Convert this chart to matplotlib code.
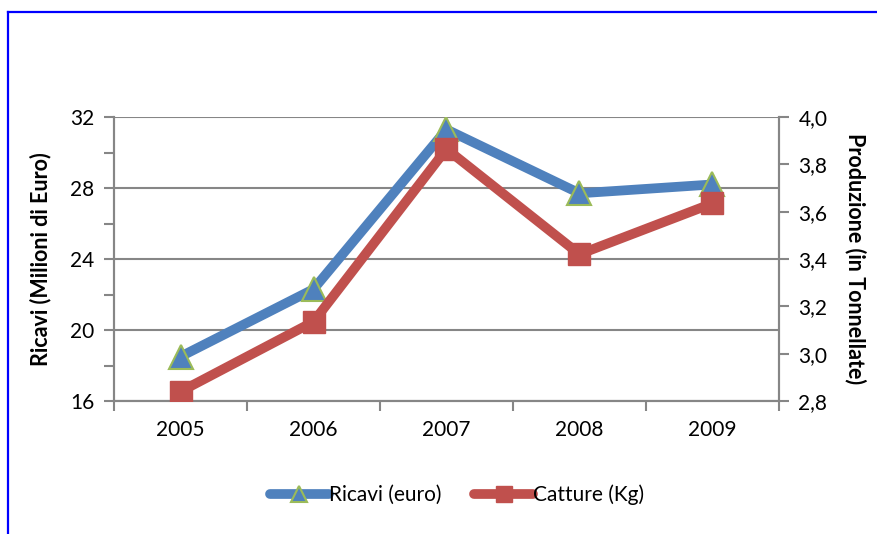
import numpy as np
import matplotlib
matplotlib.use("Agg")
import matplotlib.pyplot as plt
from matplotlib.lines import Line2D
from matplotlib.ticker import FixedLocator, FuncFormatter

plt.rcParams['font.family'] = ['Lato', 'DejaVu Sans']

# data
years = ['2005', '2006', '2007', '2008', '2009']
ricavi = [18.5, 22.3, 31.3, 27.7, 28.2]          # milioni di euro (left axis)
catture = [2.84, 3.135, 3.865, 3.42, 3.635]      # tonnellate (right axis)

blue = '#4F81BD'
red = '#C0504D'
green = '#9BBB59'
grey = '#868686'

fig = plt.figure(figsize=(8.78, 5.34), dpi=100)
ax = fig.add_axes([114 / 878, 1 - 401 / 534, 665 / 878, 284 / 534])
ax2 = ax.twinx()

x = np.arange(len(years))

# left axis: ricavi
ax.plot(x, ricavi, color=blue, lw=7, marker='^', ms=17,
        mfc=blue, mec=green, mew=1.5, solid_capstyle='round',
        solid_joinstyle='round', label='Ricavi (euro)', zorder=3)
ax.set_ylim(16, 32)
ax.set_yticks([16, 20, 24, 28, 32])
ax.yaxis.set_minor_locator(FixedLocator([18, 22, 26, 30]))
ax.yaxis.grid(True, which='major', color=grey, lw=1.5)
ax.set_axisbelow(True)
ax.set_xlim(-0.5, len(years) - 0.5)
ax.set_xticks(x)
ax.set_xticklabels(years)
ax.xaxis.set_minor_locator(FixedLocator(np.arange(-0.5, len(years), 1.0)))
ax.tick_params(axis='x', which='major', length=0, pad=14, labelsize=15)
ax.tick_params(axis='x', which='minor', length=7, width=1.5, color=grey)
ax.tick_params(axis='y', which='both', length=7, width=1.5, color=grey,
               labelsize=15, pad=7)
ax.set_ylabel('Ricavi (Milioni di Euro)', fontsize=15.5, fontweight='bold',
              labelpad=14)

# right axis: catture
ax2.plot(x, catture, color=red, lw=7, marker='s', ms=16,
         mfc=red, mec=red, solid_capstyle='round', solid_joinstyle='round',
         label='Catture (Kg)', zorder=3)
ax2.set_ylim(2.8, 4.0)
ax2.set_yticks(np.round(np.arange(2.8, 4.01, 0.2), 1))
ax2.yaxis.set_major_formatter(FuncFormatter(lambda v, p: f'{v:.1f}'.replace('.', ',')))
ax2.tick_params(axis='y', length=7, width=1.5, color=grey, labelsize=15, pad=7)
ax2.set_ylabel('Produzione (in Tonnellate)', fontsize=15.5, fontweight='bold',
               rotation=-90, labelpad=28)

for a in (ax, ax2):
    for side in ('left', 'right', 'bottom'):
        a.spines[side].set_color(grey)
        a.spines[side].set_linewidth(1.5)
    a.spines['top'].set_visible(False)

# legend
handles = [ax.get_lines()[0], ax2.get_lines()[0]]
fig.legend(handles, [h.get_label() for h in handles], loc='center',
           bbox_to_anchor=(457 / 878, 1 - 495 / 534), ncol=2, frameon=False,
           fontsize=15, handlelength=2.8, handletextpad=0.0,
           columnspacing=1.6, markerscale=0.7)

# blue border (top and left edge)
fig.add_artist(Line2D([8 / 878, 1], [1 - 12 / 534, 1 - 12 / 534],
                      color='#0000FF', lw=1.6, transform=fig.transFigure))
fig.add_artist(Line2D([8 / 878, 8 / 878], [0, 1 - 12 / 534],
                      color='#0000FF', lw=1.6, transform=fig.transFigure))

fig.savefig('out.png', dpi=100)
